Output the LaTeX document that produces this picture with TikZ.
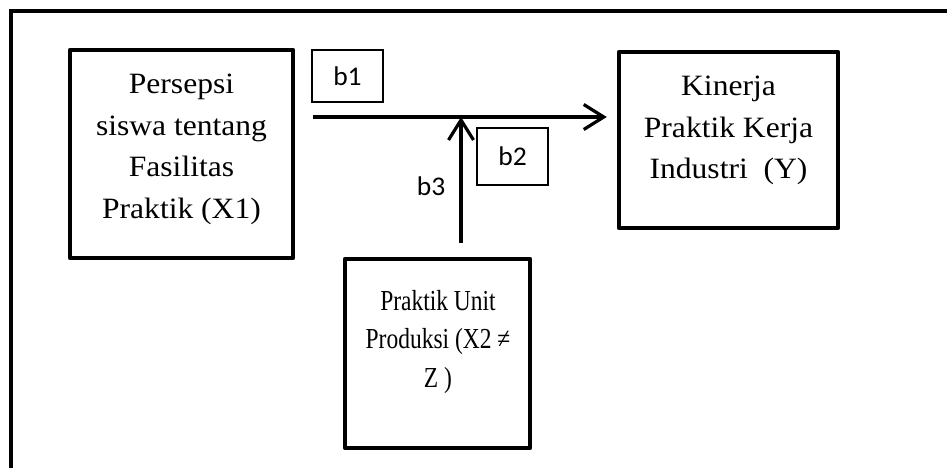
\documentclass[tikz,border=0pt]{standalone}
\usepackage{fontspec}
\setmainfont{Liberation Serif}[FakeStretch=1.07]
\newfontfamily\narrowserif{Liberation Serif}[FakeStretch=0.81]
\newfontfamily\calfont{Carlito}[FakeStretch=1.02]
\usetikzlibrary{arrows.meta}
\begin{document}
\begin{tikzpicture}[x=1pt,y=-1pt,
  bigbox/.style={draw,line width=4.5pt,line join=round,inner sep=0pt},
  lblbox/.style={draw,line width=1.2pt,inner sep=0pt},
  btext/.style={align=center,font=\fontsize{29.5}{41.5}\selectfont,inner sep=0pt},
  ntext/.style={align=center,font=\narrowserif\fontsize{29}{38.5}\selectfont,inner sep=0pt},
  ctext/.style={font=\calfont\fontsize{27}{30}\selectfont,inner sep=0pt},
  arr/.style={line width=3.2pt,-{Straight Barb[length=20pt,width=25pt]}}]
\useasboundingbox (0,0) rectangle (947,468);
% frame
\draw[line width=4pt] (11,480) -- (11,11) -- (960,11);
% boxes
\node[bigbox,minimum width=223pt,minimum height=208pt] (X1) at (181.5,154) {};
\node[bigbox,minimum width=219pt,minimum height=176pt] (Y) at (728.5,140) {};
\node[bigbox,minimum width=185pt,minimum height=189pt] (X2) at (437.5,353.5) {};
\node[btext] (tX1) at (181.5,149.5) {Persepsi\\siswa tentang\\Fasilitas\\Praktik (X1)};
\node[btext] (tY) at (728.5,130.5) {Kinerja\\Praktik Kerja\\Industri~~(Y)};
\node[ntext] (tX2) at (438,342) {Praktik Unit\\Produksi (X2 ≠\\Z )};
% label boxes
\node[lblbox,minimum width=71pt,minimum height=52pt] (b1) at (347.5,76) {};
\node[ctext] at (b1.center) (tb1) {b1};
\node[lblbox,minimum width=71pt,minimum height=57pt] (b2) at (512.5,156.5) {};
\node[ctext] at (b2.center) (tb2) {b2};
\node[ctext] (b3) at (431,186) {b3};
% arrows
\coordinate (hs) at (313,117);
\coordinate (join) at (461,117);
\coordinate (vs) at (461,243);
\draw[arr] (hs) -- ([xshift=-10pt]Y.west |- hs);
\draw[arr] (vs) -- (join);
\end{tikzpicture}
\end{document}
